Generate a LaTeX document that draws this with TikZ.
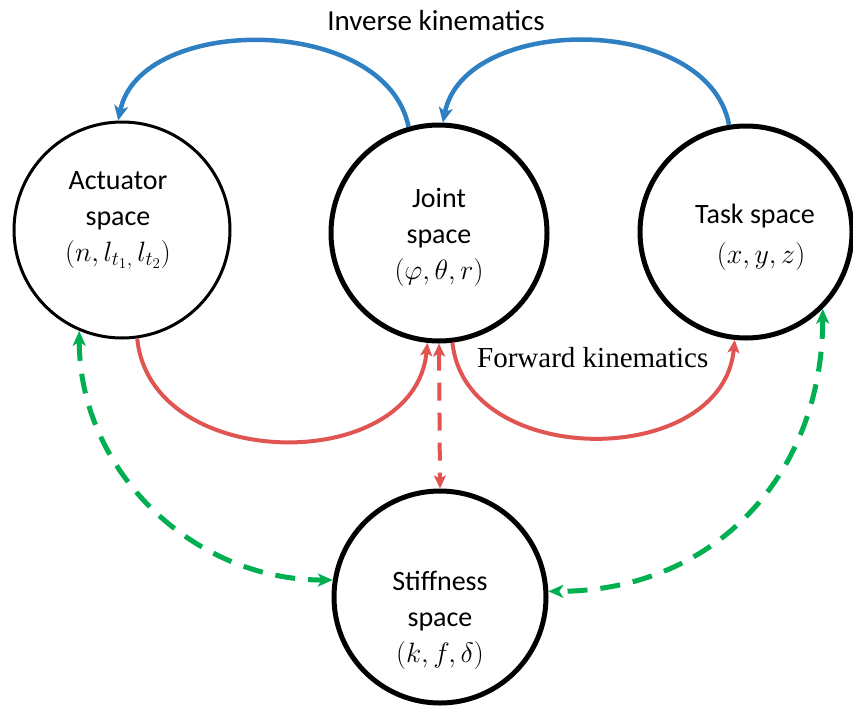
\RequirePackage{fix-cm}
\documentclass[tikz,border=0pt]{standalone}
\usepackage{fontspec}
\setmainfont{Carlito}
\newfontfamily\fkfont{Liberation Serif}
\DeclareMathSizes{28}{28}{20}{15}
\usetikzlibrary{arrows.meta,calc}
\definecolor{ikblue}{RGB}{46,128,194}
\definecolor{fkred}{RGB}{224,84,82}
\definecolor{stgreen}{RGB}{0,176,80}
\begin{document}
\begin{tikzpicture}[x=1pt,y=-1pt,
  spacecirc/.style={circle,draw=black,inner sep=0pt,fill=none},
  lbl/.style={align=center,inner sep=0pt,anchor=north,font=\fontsize{28}{36}\selectfont},
  bluearc/.style={draw=ikblue,line width=4.5pt,-{Stealth[length=15pt,width=14pt,inset=4pt]}},
  redarc/.style={draw=fkred,line width=4pt,-{Stealth[length=13pt,width=12pt,inset=3pt]}},
  reddash/.style={draw=fkred,line width=4pt,dash pattern=on 18pt off 12pt,{Stealth[length=13pt,width=12pt,inset=3pt]}-{Stealth[length=13pt,width=12pt,inset=3pt]}},
  greendash/.style={draw=stgreen,line width=5pt,dash pattern=on 20pt off 13pt,{Stealth[length=15pt,width=13pt,inset=4pt]}-{Stealth[length=15pt,width=13pt,inset=4pt]}}
]
\useasboundingbox (0,0) rectangle (853,707);

% circles
\node[spacecirc,line width=3pt,minimum size=216pt] (a) at (122,230) {};
\node[spacecirc,line width=5pt,minimum size=216pt] (j) at (439,233) {};
\node[spacecirc,line width=5pt,minimum size=212pt] (t) at (746,232) {};
\node[spacecirc,line width=5pt,minimum size=212pt] (s) at (440,597) {};

% texts
\node[lbl] (atxt) at (118,171) {Actuator\\space\\$(n,l_{t_1,}\,l_{t_2})$};
\node[lbl] (jtxt) at (439,188) {Joint\\space\\$(\varphi,\theta,r)$};
\node[lbl,font=\fontsize{28}{40}\selectfont] (ttxt) at (755,204) {Task space\\\hspace{12pt}$(x,y,z)$};
\node[lbl] (stxt) at (440,571) {Stiffness\\space\\$(k,f,\delta)$};

\node[inner sep=0pt,anchor=base,font=\fontsize{29}{34}\selectfont] (ik) at (436,30) {Inverse kinematics};
\node[inner sep=0pt,anchor=base west,font=\fkfont\fontsize{29}{34}\selectfont] (fk) at (477,367) {Forward kinematics};

% inverse kinematics (blue)
\draw[bluearc] (j.106) .. controls ($(j.106)+(-23,-113)$) and ($(a.92)+(22,-107)$) .. (a.92);
\draw[bluearc] (t.99) .. controls ($(t.99)+(-21,-112)$) and ($(j.88)+(22,-109)$) .. (j.88);

% forward kinematics (red)
\draw[redarc] (a.-82) .. controls ($(a.-82)+(13,135)$) and ($(j.-96)+(-13,133)$) .. (j.-96);
\draw[redarc] (j.-83) .. controls ($(j.-83)+(13,127)$) and ($(t.-96)+(-12,130)$) .. (t.-96);

% joint <-> stiffness
\draw[reddash] (j.south) -- (s.north);

% green dashed
\draw[greendash] (a.-113) .. controls ($(a.-113)+(0,140)$) and ($(s.171)+(-140,0)$) .. (s.171);
\draw[greendash] (t.-45) .. controls ($(t.-45)+(0,167)$) and ($(s.3)+(165,0)$) .. (s.3);
\end{tikzpicture}
\end{document}
